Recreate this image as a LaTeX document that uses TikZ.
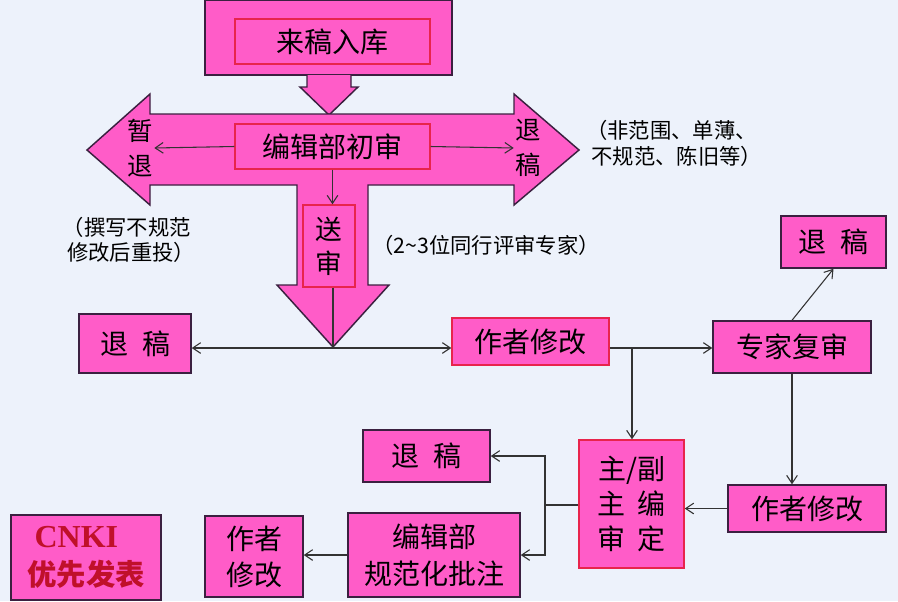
\documentclass[tikz,border=0pt]{standalone}
\usepackage{fontspec}
\setmainfont{Liberation Serif}
\newfontfamily\cjk{Noto Sans CJK SC}
\usetikzlibrary{arrows.meta}

\definecolor{paper}{HTML}{EDF2FB}
\definecolor{boxpink}{HTML}{FF5CC8}
\definecolor{redline}{HTML}{E8244C}
\definecolor{darkline}{HTML}{3B2040}
\definecolor{linegray}{HTML}{333333}
\definecolor{cnkired}{HTML}{C0102A}

\begin{document}
\begin{tikzpicture}[x=0.75pt,y=-0.75pt]

% definitions
\tikzstyle{box} = [rectangle, draw=darkline, line width=1.1pt, fill=boxpink, inner sep=0pt, align=center, font=\cjk\fontsize{21}{26}\selectfont]

\tikzstyle{redbox} = [box, draw=redline]

\tikzstyle{label} = [inner sep=0pt, align=center, font=\cjk\fontsize{19}{26}\selectfont]

\tikzstyle{note} = [inner sep=0pt, align=left, font=\cjk\fontsize{16}{19}\selectfont]

\tikzstyle{bigarrow} = [draw=darkline, line width=1.1pt, fill=boxpink, line join=miter]

\tikzstyle{arrow} = [->, >={Straight Barb[length=6pt,width=8pt]}, line width=0.8pt, draw=linegray]

\tikzstyle{line} = [line width=0.8pt, draw=linegray]

% background
\fill[paper] (0,0) rectangle (898,601);
\useasboundingbox (0,0) rectangle (898,601);

% the big arrows
\draw[bigarrow] (205,0) rectangle (452,75);
\draw[bigarrow] (307,75) -- (307,87) -- (300,87) -- (329,115) -- (358,87) -- (351,87) -- (351,75);
\draw[bigarrow] (87,150) -- (150,94) -- (150,114) -- (514,114) -- (514,94) -- (579,150) -- (514,205) -- (514,185)
  -- (368,185) -- (368,285) -- (389,285) -- (333,347) -- (277,285) -- (297,285) -- (297,185)
  -- (150,185) -- (150,205) -- cycle;

% the graph
\node (intake) [redbox, minimum width=195*0.75pt, minimum height=45*0.75pt] at (332.5,41.5) {来稿入库};

\node (prelim) [redbox, minimum width=195*0.75pt, minimum height=45*0.75pt] at (332.5,146.5) {编辑部初审};

\node (hold) [label, minimum width=28*0.75pt] at (140,148) {暂\\退};

\node (reject1) [label, minimum width=28*0.75pt] at (528,148) {退\\稿};

\node (review) [redbox, minimum width=52*0.75pt, minimum height=82*0.75pt, font=\cjk\fontsize{20}{25.5}\selectfont] at (329,246) {送\\审};

\coordinate (fork) at (333,348);

\node (reject2) [box, minimum width=112*0.75pt, minimum height=59*0.75pt] at (135,343.5) {退\hspace{0.5em}稿};

\node (revise1) [redbox, minimum width=157*0.75pt, minimum height=47*0.75pt] at (530.5,341.5) {作者修改};

\coordinate (split) at (632,348);

\node (expert) [box, minimum width=158*0.75pt, minimum height=52*0.75pt] at (792,347) {专家复审};

\node (reject3) [box, minimum width=105*0.75pt, minimum height=52*0.75pt] at (833.5,242) {退\hspace{0.5em}稿};

\node (revise2) [box, minimum width=158*0.75pt, minimum height=47*0.75pt] at (807,508.5) {作者修改};

\node (chief) [redbox, minimum width=105*0.75pt, minimum height=128*0.75pt] at (631.5,504) {主/副\\主\hspace{0.4em}编\\审\hspace{0.4em}定};

\coordinate (junc) at (545,505);

\node (reject4) [box, minimum width=127*0.75pt, minimum height=52*0.75pt] at (426.5,456) {退\hspace{0.5em}稿};

\node (norm) [box, minimum width=172*0.75pt, minimum height=84*0.75pt, font=\cjk\fontsize{21}{27.5}\selectfont] at (434,555) {编辑部\\规范化批注};

\node (revise3) [box, minimum width=98*0.75pt, minimum height=81*0.75pt, font=\cjk\fontsize{21}{27}\selectfont] at (254,556.5) {作者\\修改};

\node (cnki) [box, minimum width=150*0.75pt, minimum height=85*0.75pt, text=cnkired, font=\fontsize{24}{28}\selectfont] at (86,557.5) {\hspace*{-0.6em}\textbf{CNKI}\\{\cjk\fontsize{22}{28}\selectfont\bfseries 优先发表}};

% notes
\node (note1) [note] at (129,240) {（撰写不规范\\\hspace{0.2em}修改后重投）};

\node (note2) [note] at (486,245) {（2\textasciitilde3位同行评审专家）};

\node (note3) [note, anchor=west, font=\cjk\fontsize{16}{20}\selectfont] at (586,143.5) {（非范围、单薄、\\\hspace{0.25em}不规范、陈旧等）};

% connectors
\draw [arrow] (prelim.west) -- (hold.east);
\draw [arrow] (prelim.east) -- (reject1.west);
\draw [arrow] (prelim.south) -- (prelim.south |- review.north);
\draw [line] (review.south -| fork) -- (fork);
\draw [arrow] (fork) -- (fork -| reject2.east);
\draw [arrow] (fork) -- (fork -| revise1.west);
\draw [arrow] (revise1.east |- split) -- (expert.west |- split);
\draw [arrow] (split) -- (split |- chief.north);
\draw [arrow] (expert.north) -- (reject3.south);
\draw [arrow] (expert.south) -- (expert.south |- revise2.north);
\draw [arrow] (revise2.west) -- (revise2.west -| chief.east);
\draw [line] (chief.west |- junc) -- (junc);
\draw [arrow] (junc) |- (reject4.east);
\draw [arrow] (junc) |- (norm.east);
\draw [arrow] (norm.west) -- (norm.west -| revise3.east);

\end{tikzpicture}
\end{document}
